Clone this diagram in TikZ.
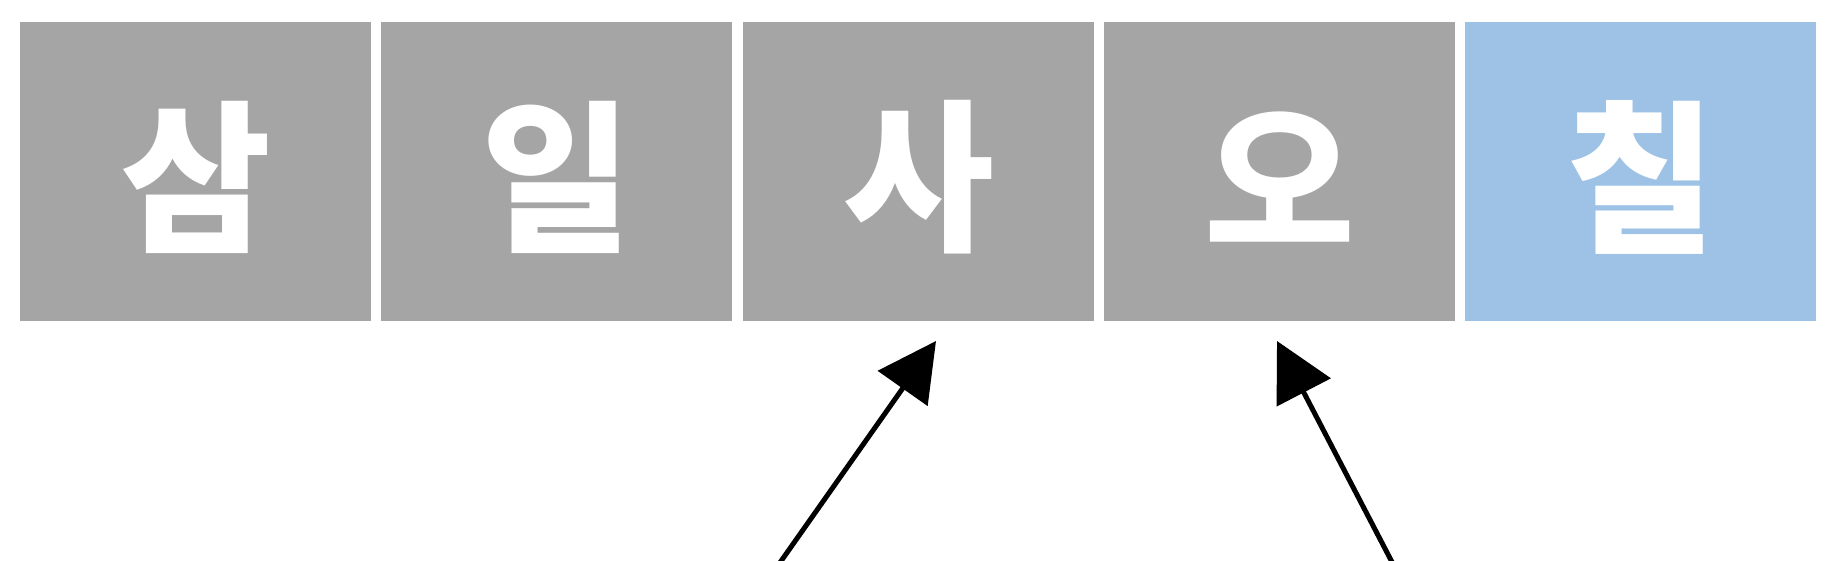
\documentclass[tikz,border=0pt]{standalone}
\usepackage{fontspec}
\newfontfamily\kr{Noto Sans CJK KR}
\usetikzlibrary{arrows.meta}
\definecolor{boxgray}{RGB}{165,165,165}
\definecolor{boxblue}{RGB}{157,194,230}
\begin{document}
\begin{tikzpicture}[x=1pt,y=-1pt,
  cell/.style={fill=boxgray,draw=none,minimum width=351pt,minimum height=299pt,inner sep=0pt},
  hl/.style={cell,fill=boxblue},
  glyph/.style={text=white,inner sep=0pt,font=\kr\bfseries\fontsize{164}{164}\selectfont},
  pointer/.style={line width=5pt,-{Triangle[length=58pt,width=60pt]}}]
\useasboundingbox (0,0) rectangle (1839,560);
\fill[white] (0,0) rectangle (1839,560);
\node[cell] (b1) at (195.5,171.5) {};
\node[cell] (b2) at (556.5,171.5) {};
\node[cell] (b3) at (918.5,171.5) {};
\node[cell] (b4) at (1279.5,171.5) {};
\node[hl]   (b5) at (1640.5,171.5) {};
\node[glyph] (g1) at ([yshift=-6pt]b1.center) {삼};
\node[glyph] (g2) at ([yshift=-6pt]b2.center) {일};
\node[glyph] (g3) at ([yshift=-6pt]b3.center) {사};
\node[glyph] (g4) at ([yshift=-6pt]b4.center) {오};
\node[glyph] (g5) at ([yshift=-6pt]b5.center) {칠};
\coordinate (s1) at (779,564);
\coordinate (t1) at (936,341);
\coordinate (s2) at (1393,564);
\coordinate (t2) at (1277,341);
\draw[pointer] (s1) -- (t1);
\draw[pointer] (s2) -- (t2);
\end{tikzpicture}
\end{document}
